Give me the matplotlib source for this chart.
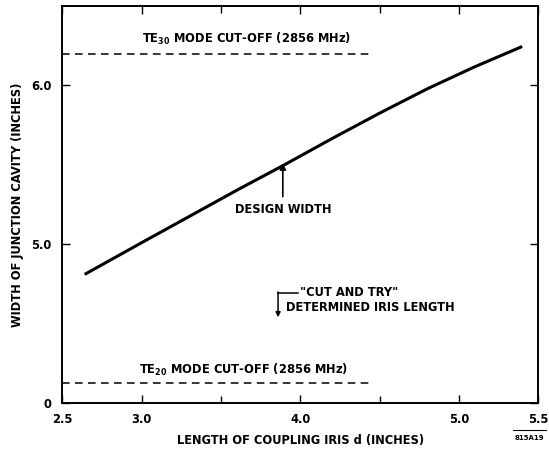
import matplotlib
matplotlib.use("Agg")
import matplotlib.pyplot as plt

# Data
iris_length = [2.64, 3.0, 3.3, 3.6, 3.9, 4.2, 4.5, 4.8, 5.1, 5.40]
cavity_width = [4.81, 5.01, 5.175, 5.34, 5.50, 5.665, 5.825, 5.978, 6.117, 6.245]

te30_cutoff = 6.2
te20_cutoff = 4.125
cutoff_x_end = 4.45
design_x = 3.89
design_y = 5.51
cut_try_x = 3.86

x_ticks = [2.5, 3.0, 4.0, 5.0, 5.5]
x_tick_labels = ["2.5", "3.0", "4.0", "5.0", "5.5"]
x_minor = [3.5, 4.5]
y_ticks = [4.0, 5.0, 6.0]
y_tick_labels = ["0", "5.0", "6.0"]

plt.rcParams['font.family'] = ['DejaVu Sans']
plt.rcParams['font.weight'] = 'bold'
FS = 8.3

fig = plt.figure(figsize=(5.49, 4.49), dpi=100)
ax = fig.add_axes([0.1138, 0.1024, 0.8662, 0.8842])
ax.set_xlim(2.5, 5.5)
ax.set_ylim(4.0, 6.5)

ax.plot(iris_length, cavity_width, color='black', lw=2.2, solid_capstyle='butt')
ax.plot([2.5, cutoff_x_end], [te30_cutoff, te30_cutoff], color='black', lw=1.1, ls=(0, (5, 3.5)))
ax.plot([2.5, cutoff_x_end], [te20_cutoff, te20_cutoff], color='black', lw=1.1, ls=(0, (5, 3.5)))

ax.text(3.0, 6.24, "TE$_{30}$ MODE CUT-OFF (2856 MHz)", fontsize=FS, fontweight='bold', va='bottom', ha='left')
ax.text(2.98, 4.16, "TE$_{20}$ MODE CUT-OFF (2856 MHz)", fontsize=FS, fontweight='bold', va='bottom', ha='left')

ax.annotate("", xy=(design_x, design_y), xytext=(design_x, design_y - 0.21),
            arrowprops=dict(arrowstyle='-|>', color='black', lw=1.2, mutation_scale=9, shrinkA=0, shrinkB=0))
ax.text(design_x, design_y - 0.25, "DESIGN WIDTH", fontsize=FS, fontweight='bold', ha='center', va='top')

# cut and try bracket
ax.plot([cut_try_x, cut_try_x + 0.125], [4.695, 4.695], color='black', lw=1.1)
ax.annotate("", xy=(cut_try_x, 4.54), xytext=(cut_try_x, 4.70),
            arrowprops=dict(arrowstyle='-|>', color='black', lw=1.1, mutation_scale=7, shrinkA=0, shrinkB=0))
ax.text(cut_try_x + 0.14, 4.695, '"CUT AND TRY"', fontsize=FS, fontweight='bold', ha='left', va='center')
ax.text(cut_try_x + 0.05, 4.60, 'DETERMINED IRIS LENGTH', fontsize=FS, fontweight='bold', ha='left', va='center')

ax.set_xticks(x_ticks)
ax.set_xticklabels(x_tick_labels)
ax.set_xticks(x_minor, minor=True)
ax.set_yticks(y_ticks)
ax.set_yticklabels(y_tick_labels)
ax.tick_params(axis='both', which='both', direction='in', top=True, right=True,
               labelsize=FS, width=1.0)
ax.tick_params(axis='x', which='major', pad=7)
ax.tick_params(axis='y', which='major', pad=8)
ax.tick_params(axis='both', which='major', length=6)
ax.tick_params(axis='both', which='minor', length=5)
for lab in ax.get_xticklabels() + ax.get_yticklabels():
    lab.set_fontweight('bold')
for s in ax.spines.values():
    s.set_linewidth(1.4)

ax.set_xlabel("LENGTH OF COUPLING IRIS d (INCHES)", fontsize=FS, fontweight='bold', labelpad=6)
ax.set_ylabel("WIDTH OF JUNCTION CAVITY (INCHES)", fontsize=FS, fontweight='bold', labelpad=5)

fig.text(0.965, 0.018, "815A19", fontsize=5, fontweight='bold', ha='center', va='bottom')
fig.lines.append(plt.Line2D([0.935, 0.995], [0.043, 0.043], color='black', lw=0.8, transform=fig.transFigure))

fig.savefig("out.png", dpi=100)
